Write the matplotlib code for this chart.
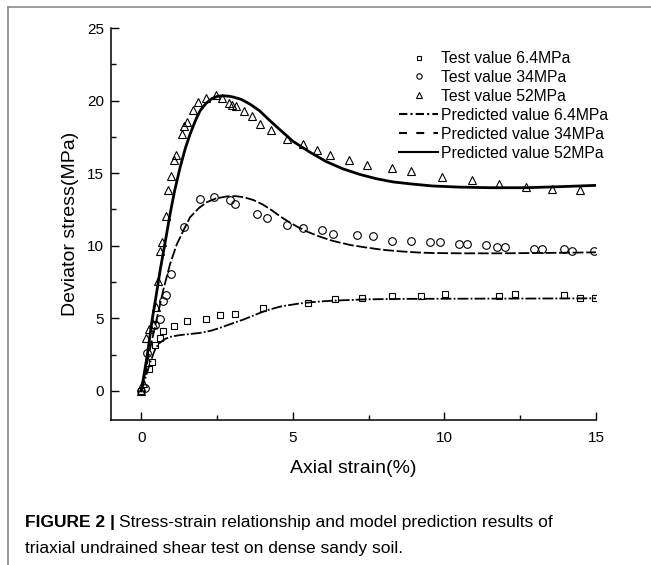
import numpy as np
from matplotlib import pyplot as plt
from matplotlib.lines import Line2D

# test points (axial strain %, deviator stress MPa)
x_64 = [0.0, 0.27, 0.35, 0.45, 0.61, 0.71, 1.08, 1.5, 2.14, 2.58, 3.1, 4.0, 5.5, 6.4, 7.28,
        8.26, 9.23, 10.03, 11.8, 12.34, 13.95, 14.47, 14.97]
y_64 = [0.0, 1.48, 2.0, 3.16, 3.66, 4.12, 4.49, 4.83, 4.96, 5.21, 5.33, 5.7, 6.08, 6.31, 6.42,
        6.54, 6.54, 6.67, 6.56, 6.7, 6.58, 6.42, 6.42]

x_34 = [0.0, 0.12, 0.18, 0.44, 0.62, 0.7, 0.8, 0.98, 1.42, 1.95, 2.4, 2.93, 3.1, 3.83, 4.16,
        4.81, 5.34, 5.95, 6.31, 7.12, 7.64, 8.27, 8.89, 9.51, 9.86, 10.49, 10.76, 11.37,
        11.73, 12.0, 12.97, 13.23, 13.95, 14.22, 14.93]
y_34 = [0.0, 0.2, 2.6, 4.53, 4.98, 6.17, 6.64, 8.08, 11.3, 13.24, 13.38, 13.12, 12.89, 12.18,
        11.93, 11.46, 11.23, 11.09, 10.82, 10.73, 10.64, 10.36, 10.36, 10.27, 10.27, 10.13,
        10.13, 10.04, 9.94, 9.94, 9.78, 9.78, 9.78, 9.67, 9.67]

x_52 = [0.0, 0.05, 0.16, 0.27, 0.37, 0.47, 0.56, 0.61, 0.69, 0.8, 0.88, 0.98, 1.09, 1.15,
        1.34, 1.41, 1.5, 1.7, 1.88, 2.14, 2.47, 2.65, 2.9, 2.98, 3.13, 3.39, 3.65, 3.91,
        4.27, 4.79, 5.34, 5.78, 6.22, 6.84, 7.46, 8.27, 8.89, 9.93, 10.91, 11.81, 12.69,
        13.56, 14.47]
y_52 = [0.0, 0.55, 3.66, 4.28, 4.6, 5.75, 7.58, 9.67, 10.26, 12.06, 13.81, 14.82, 15.88,
        16.25, 17.73, 18.23, 18.53, 19.38, 19.91, 20.2, 20.37, 20.2, 19.84, 19.73, 19.6,
        19.29, 18.92, 18.42, 17.96, 17.38, 16.99, 16.62, 16.28, 15.93, 15.59, 15.35, 15.12,
        14.73, 14.5, 14.27, 14.04, 13.92, 13.81]

# model curves
px_64 = [0, 0.15, 0.3, 0.46, 0.6, 0.8, 1.0, 1.28, 1.6, 1.94, 2.3, 2.6, 3.0, 3.37, 3.7, 4.13,
         4.6, 5.23, 5.8, 6.33, 7.42, 8.5, 9.61, 11.8, 13.5, 15.0]
py_64 = [0, 1.0, 2.0, 2.9, 3.3, 3.6, 3.75, 3.85, 3.92, 4.0, 4.15, 4.35, 4.65, 4.92, 5.2, 5.55,
         5.82, 6.03, 6.15, 6.22, 6.31, 6.34, 6.35, 6.36, 6.37, 6.38]

px_34 = [0, 0.15, 0.3, 0.52, 0.73, 0.95, 1.17, 1.4, 1.61, 1.9, 2.16, 2.45, 2.82, 3.1, 3.37,
         3.7, 4.0, 4.3, 4.6, 4.9, 5.2, 5.5, 5.9, 6.33, 6.9, 7.42, 7.97, 8.52, 9.1, 9.61, 10.7,
         11.8, 12.9, 14.0, 15.0]
py_34 = [0, 1.5, 3.0, 5.06, 7.0, 8.75, 10.1, 11.1, 11.97, 12.6, 13.0, 13.25, 13.4, 13.42,
         13.35, 13.15, 12.85, 12.45, 12.0, 11.6, 11.25, 10.95, 10.62, 10.33, 10.05, 9.88, 9.72,
         9.62, 9.54, 9.5, 9.48, 9.48, 9.5, 9.52, 9.55]

px_52 = [0.0, 0.2, 0.35, 0.5, 0.62, 0.8, 0.95, 1.1, 1.28, 1.45, 1.61, 1.8, 1.94, 2.13, 2.33,
         2.52, 2.71, 2.9, 3.04, 3.3, 3.59, 3.9, 4.2, 4.57, 5.0, 5.56, 6.1, 6.65, 7.2, 7.75,
         8.3, 8.85, 9.6, 10.49, 11.5, 12.69, 13.8, 15.0]
py_52 = [0.0, 2.5, 4.8, 6.7, 8.3, 10.4, 12.2, 13.8, 15.4, 16.7, 17.7, 18.7, 19.3, 19.8, 20.14,
         20.3, 20.33, 20.3, 20.24, 20.08, 19.75, 19.3, 18.7, 18.0, 17.2, 16.45, 15.8, 15.3,
         14.92, 14.62, 14.4, 14.27, 14.12, 14.04, 14.0, 14.0, 14.07, 14.16]

plt.rcParams['font.family'] = ['Liberation Sans', 'DejaVu Sans']

fig = plt.figure(figsize=(6.51, 5.65), dpi=100)
ax = fig.add_axes([111 / 651, 1 - 420 / 565, 485 / 651, 392 / 565])

mk = dict(linestyle='none', markerfacecolor='none', markeredgecolor='black', markeredgewidth=0.8)
h1, = ax.plot(x_64, y_64, marker='s', markersize=5, **mk)
h2, = ax.plot(x_34, y_34, marker='o', markersize=5.5, **mk)
h3, = ax.plot(x_52, y_52, marker='^', markersize=6, **mk)
ax.plot(px_64, py_64, color='black', lw=1.3, linestyle=(0, (6, 1.2, 1, 1.2)))
ax.plot(px_34, py_34, color='black', lw=1.3, linestyle=(0, (6, 1.5)))
ax.plot(px_52, py_52, color='black', lw=2.0)

ax.set_xlim(-1, 15)
ax.set_ylim(-2, 25)
ax.set_xticks([0, 5, 10, 15])
ax.set_xticks([2.5, 7.5, 12.5], minor=True)
ax.set_yticks([0, 5, 10, 15, 20, 25])
ax.set_yticks([2.5, 7.5, 12.5, 17.5, 22.5], minor=True)
ax.spines['top'].set_visible(False)
ax.spines['right'].set_visible(False)
for s in ['left', 'bottom']:
    ax.spines[s].set_linewidth(1.1)
ax.tick_params(which='major', direction='in', length=6, width=1.0, labelsize=11)
ax.tick_params(which='minor', direction='in', length=3.5, width=1.0)
ax.tick_params(axis='x', which='major', pad=8)
ax.tick_params(axis='y', which='major', pad=5)
ax.set_xlabel('Axial strain(%)', fontsize=14, labelpad=11)
ax.set_ylabel('Deviator stress(MPa)', fontsize=14, labelpad=6)

# legend handles: same markers, line styles as drawn in the legend of the original
l1 = Line2D([], [], color='black', lw=1.5, linestyle=(0, (4, 1.5, 1, 1.5)))
l2 = Line2D([], [], color='black', lw=1.5, linestyle=(0, (3.8, 4.5)))
l3 = Line2D([], [], color='black', lw=1.5)
labels = ['Test value 6.4MPa', 'Test value 34MPa', 'Test value 52MPa',
          'Predicted value 6.4MPa', 'Predicted value 34MPa', 'Predicted value 52MPa']
ax.legend([h1, h2, h3, l1, l2, l3], labels,
          loc='upper left', bbox_to_anchor=(399 / 651, 1 - 51 / 565),
          bbox_transform=fig.transFigure, frameon=False, fontsize=11.3,
          labelspacing=0.25, handlelength=2.5, handletextpad=0.15,
          borderpad=0, borderaxespad=0, markerscale=0.7)

# thin frame lines around the figure panel (left and top)
fig.add_artist(Line2D([8 / 651, 8 / 651], [0, 1 - 7 / 565], color='#8a8a8a', lw=1.2))
fig.add_artist(Line2D([8 / 651, 1], [1 - 7 / 565, 1 - 7 / 565], color='#8a8a8a', lw=1.2))

# caption
cap_font = ['Liberation Sans Narrow', 'Liberation Sans', 'DejaVu Sans']
t1 = fig.text(25 / 651, 1 - 523 / 565, 'FIGURE 2 |', fontsize=12.5, fontweight='bold',
              family=cap_font, va='center')
fig.canvas.draw()
bb = t1.get_window_extent()
fig.text((bb.x1 + 4) / 651, 1 - 523 / 565,
         'Stress-strain relationship and model prediction results of',
         fontsize=12.5, family=cap_font, va='center')
fig.text(25 / 651, 1 - 548 / 565, 'triaxial undrained shear test on dense sandy soil.',
         fontsize=12.5, family=cap_font, va='center')

fig.savefig('out.png', dpi=100)
